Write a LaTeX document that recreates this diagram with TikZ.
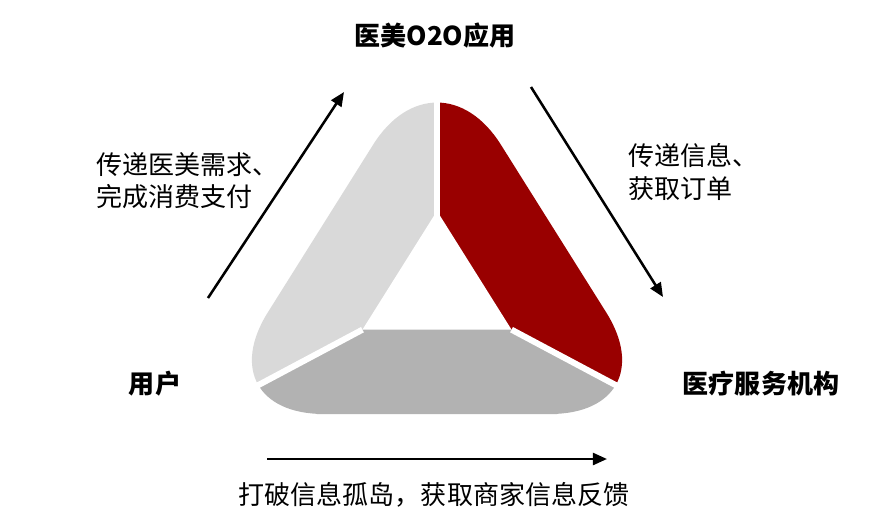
\documentclass[tikz,border=0pt]{standalone}
\usepackage{fontspec}
\setmainfont{Noto Sans CJK SC}
\usetikzlibrary{positioning,calc,arrows.meta}
\definecolor{vermell}{RGB}{153,0,0}
\definecolor{grisclar}{RGB}{217,217,217}
\definecolor{grisfosc}{RGB}{178,178,178}
\newcommand{\Contorn}{($(L)!.5!(R)$) -- (R) -- (A) -- (L) -- cycle}
\tikzset{
    Sector/.style={rounded corners=3.0cm},
    Separador/.style={draw=white, line width=4.3pt},
    Etiqueta/.style={font=\fontsize{18.5}{22.8}\selectfont, align=left, inner sep=0pt},
    EtiquetaNegreta/.style={font=\fontsize{18.5}{22.8}\selectfont\bfseries, inner sep=0pt},
    Fletxa/.style={line width=1.8pt, -{Triangle[length=10pt,width=8.5pt]}}
    }

\begin{document}
\begin{tikzpicture}[x=0.025cm,y=-0.025cm]

\useasboundingbox (0,0) rectangle (880,521);

\coordinate (A) at (437,43);
\coordinate (L) at (204,414);
\coordinate (R) at (670,414);
\coordinate (C) at (437,290);
\coordinate (IA) at ($(C)!.32!(A)$);
\coordinate (IL) at ($(C)!.32!(L)$);
\coordinate (IR) at ($(C)!.32!(R)$);

%sectors
\begin{scope}
\clip (C) -- ($(C)!2!(A)$) -- ($(C)!2!(L)$) -- cycle;
\fill[grisclar, Sector] \Contorn;
\end{scope}
\begin{scope}
\clip (C) -- ($(C)!2!(A)$) -- ($(C)!2!(R)$) -- cycle;
\fill[vermell, Sector] \Contorn;
\end{scope}
\begin{scope}
\clip (C) -- ($(C)!2!(L)$) -- ($(C)!2!(R)$) -- cycle;
\fill[grisfosc, Sector] \Contorn;
\end{scope}

\fill[white] (IA) -- (IL) -- (IR) -- cycle;
\draw[Separador] (C) -- ($(C)!1.4!(A)$);
\draw[Separador] (IL) -- ($(C)!1.4!(L)$);
\draw[Separador] (IR) -- ($(C)!1.4!(R)$);

\node[EtiquetaNegreta] (App) at (435,36) {医美O2O应用};
\node[EtiquetaNegreta] (Usuari) at (155,384) {用户};
\node[EtiquetaNegreta] (Centre) at (761,384) {医疗服务机构};
\node[Etiqueta, anchor=west] (Demanda) at (96,181) {传递医美需求、\\完成消费支付};
\node[Etiqueta, anchor=west] (Comanda) at (628,172) {传递信息、\\获取订单};
\node[Etiqueta] (Retorn) at (434,495) {打破信息孤岛，获取商家信息反馈};

\coordinate (PujaIni) at (208,298);
\coordinate (PujaFi) at (344,92);
\coordinate (BaixaIni) at (531,87);
\coordinate (BaixaFi) at (663,297);
\coordinate (DretaIni) at (267,459);
\coordinate (DretaFi) at (607,459);
\draw[Fletxa] (PujaIni) -- (PujaFi);
\draw[Fletxa] (BaixaIni) -- (BaixaFi);
\draw[Fletxa] (DretaIni) -- (DretaFi);

\end{tikzpicture}
\end{document}
